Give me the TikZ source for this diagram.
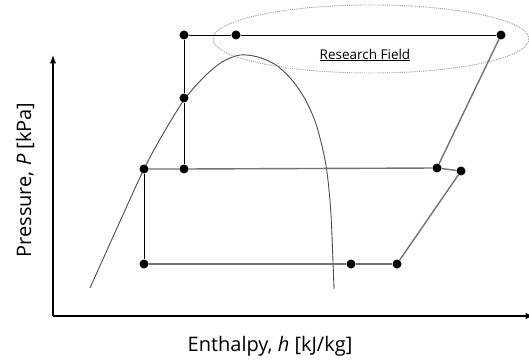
\documentclass[tikz,border=0pt]{standalone}
\usepackage{fontspec}
\setmainfont{Open Sans}
\usetikzlibrary{arrows.meta, shapes.geometric}

\begin{document}
\begin{tikzpicture}[
    x=1pt, y=-1pt,
    font=\fontsize{20}{24}\selectfont,
    >=Latex,
    dot/.style={
        circle,
        fill=black,
        inner sep=0pt,
        minimum size=9pt
    },
    axis/.style={
        ->,
        line width=1.2pt
    },
    blackline/.style={
        line width=0.9pt
    },
    grayline/.style={
        draw=black!55,
        line width=1.4pt
    },
    dome/.style={
        draw=black!70,
        line width=0.9pt
    },
    field/.style={
        ellipse,
        draw=black!40,
        densely dotted,
        line width=0.9pt,
        minimum width=316pt,
        minimum height=68pt
    }
]
\useasboundingbox (0,0) rectangle (529,363);

% Axes
\coordinate (origin) at (53,316);
\coordinate (ytip) at (53,55);
\coordinate (xtip) at (534,316);
\draw[axis] (origin) -- (ytip);
\draw[axis] (origin) -- (xtip);

% Saturation dome
\draw[dome] plot[smooth] coordinates {(90,288) (117,228) (144,169) (163,134) (184,100) (204,77) (222,62) (240,55) (258,57) (276,65) (292,80) (305,99) (315,121) (322,146) (327,172) (331,215) (334,289)};

% Research field
\node[field] (region) at (371,39) {};
\node[font=\fontsize{13.5}{16}\selectfont] (fieldtext) at (365,55) {\underline{Research Field}};

% State points
\node[dot] (t1) at (184,35) {};
\node[dot] (t2) at (236,35) {};
\node[dot] (t3) at (501,35) {};
\node[dot] (s) at (184,98) {};
\node[dot] (m1) at (144,169) {};
\node[dot] (m2) at (184,169) {};
\node[dot] (m3) at (437,168) {};
\node[dot] (m4) at (461,171) {};
\node[dot] (b1) at (144,264) {};
\node[dot] (b2) at (351,264) {};
\node[dot] (b3) at (397,264) {};

% Cycle lines
\draw[blackline] (t1) -- (t2) -- (t3);
\draw[blackline] (t1) -- (s) -- (m2);
\draw[blackline] (m1) -- (b1);
\draw[grayline] (m1) -- (m2) -- (m3) -- (m4);
\draw[grayline] (b1) -- (b2) -- (b3);
\draw[grayline] (b3) -- (m4);
\draw[grayline] (m3) -- (t3);

% Axis labels
\node[rotate=90] (ylabel) at (25,180) {Pressure, \textit{P} [kPa]};
\node (xlabel) at (270,346) {Enthalpy, \textit{h} [kJ/kg]};

\end{tikzpicture}
\end{document}
